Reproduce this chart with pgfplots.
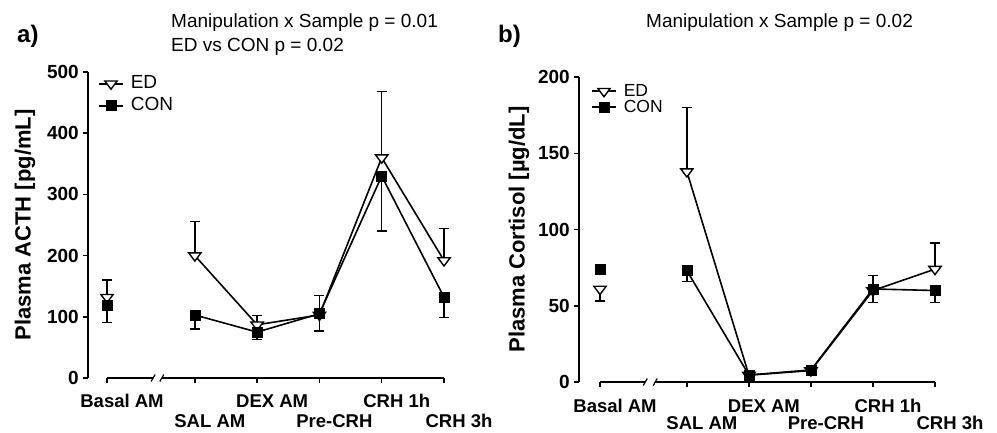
\documentclass[border=0pt]{standalone}
\usepackage{fontspec}
\setmainfont{Liberation Sans}
\usepackage{pgfplots}
\pgfplotsset{compat=1.18}

\pgfplotsset{
  prism/.style={
    scale only axis, clip=false, enlargelimits=false,
    axis x line*=bottom, axis y line*=left,
    x axis line style={draw=none},
    y axis line style={line width=1.5pt},
    tick align=outside, major tick length=5pt,
    major tick style={black, line width=1.5pt},
    /pgf/number format/assume math mode=true,
    yticklabel style={font=\bfseries\fontsize{19}{21}\selectfont, anchor=east, inner sep=0pt, xshift=-4pt},
    xticklabel style={font=\bfseries\fontsize{18.5}{20}\selectfont, anchor=base, inner sep=0pt, xshift=15pt},
    ylabel style={font=\bfseries\fontsize{22}{24}\selectfont, anchor=center},
    legend cell align=left,
    legend image code/.code={\draw[mark repeat=2, mark phase=2] plot coordinates {(0pt,0pt) (12pt,0pt) (24pt,0pt)};},
  },
  errp/.style={forget plot, draw=none, mark=none,
    error bars/.cd, y dir=plus, y explicit,
    error bar style={draw=black, solid, line width=1.5pt},
    error mark options={draw=black, solid, line width=1.5pt, mark size=5pt, rotate=90}},
  errm/.style={forget plot, draw=none, mark=none,
    error bars/.cd, y dir=minus, y explicit,
    error bar style={draw=black, solid, line width=1.5pt},
    error mark options={draw=black, solid, line width=1.5pt, mark size=5pt, rotate=90}},
  edline/.style={black, line width=1.6pt, mark=triangle*,
    mark options={solid, fill=white, draw=black, rotate=180, xscale=1.3, mark size=5.5pt, line width=1.4pt}},
  conline/.style={black, line width=1.6pt, mark=square*,
    mark options={solid, fill=black, draw=black, mark size=5pt, line width=0.6pt}},
}

\begin{document}
\begin{tikzpicture}
\path[use as bounding box] (0,0) rectangle (997pt,432pt);

% ---------------- panel a ----------------
\begin{axis}[prism,
  at={(88pt,54pt)}, anchor=south west,
  width=356pt, height=306pt,
  xmin=-0.305, xmax=5.41, ymin=0, ymax=500,
  ytick={0,100,200,300,400,500},
  xtick={0,1.41,2.41,3.41,4.41,5.41},
  xticklabel style={yshift=-24pt},
  xticklabels={Basal AM,\raisebox{-20pt}{SAL AM},DEX AM,\raisebox{-20pt}{Pre-CRH},CRH 1h,\raisebox{-20pt}{CRH 3h}},
  ylabel={Plasma ACTH [pg/mL]},
  ylabel style={at={(axis description cs:-0.177,0.5)}},
  legend style={at={(axis description cs:0,1)}, anchor=north west, xshift=10pt, yshift=-4pt,
    draw=none, fill=none, inner sep=0pt, row sep=7pt, column sep=7pt,
    font=\fontsize{19}{21}\selectfont,
    nodes={inner sep=0pt, text height=12.5pt, text depth=2.5pt}},
]
\addplot[errp] coordinates {(0,132) +- (0,28) (1.41,200) +- (0,56) (2.41,87) +- (0,15) (3.41,103) +- (0,32) (4.41,360) +- (0,108) (5.41,192) +- (0,52)};
\addplot[errm] coordinates {(0,118) +- (0,27) (1.41,103) +- (0,23) (2.41,75) +- (0,12) (3.41,105) +- (0,28) (4.41,330) +- (0,90) (5.41,132) +- (0,33)};
\addplot[edline] coordinates {(1.41,200) (2.41,87) (3.41,103) (4.41,360) (5.41,192)};
\addlegendentry{ED}
\addplot[conline] coordinates {(1.41,103) (2.41,75) (3.41,105) (4.41,330) (5.41,132)};
\addlegendentry{CON}
\addplot[edline, only marks, forget plot] coordinates {(0,132)};
\addplot[conline, only marks, forget plot] coordinates {(0,118)};
% broken x axis line
\draw[line width=1.5pt] (axis cs:0,0) -- (axis cs:0.74,0);
\draw[line width=1.5pt] (axis cs:0.88,0) -- (axis cs:5.41,0);
\draw[line width=1.2pt] (axis cs:0.74,0) ++(-2pt,-3.5pt) -- ++(4pt,7pt);
\draw[line width=1.2pt] (axis cs:0.88,0) ++(-2pt,-3.5pt) -- ++(4pt,7pt);
\end{axis}

% ---------------- panel b ----------------
\begin{axis}[prism,
  at={(579pt,50pt)}, anchor=south west,
  width=356pt, height=305pt,
  xmin=-0.339, xmax=5.40, ymin=0, ymax=200,
  ytick={0,50,100,150,200},
  xtick={0,1.40,2.40,3.40,4.40,5.40},
  xticklabel style={yshift=-25pt},
  xticklabels={Basal AM,\raisebox{-17.5pt}{SAL AM},DEX AM,\raisebox{-17.5pt}{Pre-CRH},CRH 1h,\raisebox{-17.5pt}{CRH 3h}},
  ylabel={Plasma Cortisol [µg/dL]},
  ylabel style={at={(axis description cs:-0.1685,0.5)}},
  legend style={at={(axis description cs:0,1)}, anchor=north west, xshift=12pt, yshift=-7pt,
    draw=none, fill=none, inner sep=0pt, row sep=2pt, column sep=7pt,
    font=\fontsize{17.5}{19}\selectfont,
    nodes={inner sep=0pt, text height=12pt, text depth=2pt}},
]
\addplot[errp] coordinates {(1.40,138) +- (0,42) (4.40,60) +- (0,10) (5.40,74) +- (0,17)};
\addplot[errm] coordinates {(0,61) +- (0,8)};
\addplot[errm] coordinates {(0,74) +- (0,2) (1.40,73) +- (0,7) (4.40,61) +- (0,9) (5.40,60) +- (0,8)};
\addplot[edline] coordinates {(1.40,138) (2.40,4.5) (3.40,7.5) (4.40,60) (5.40,74)};
\addlegendentry{ED}
\addplot[conline] coordinates {(1.40,73) (2.40,4.6) (3.40,7.9) (4.40,61) (5.40,60)};
\addlegendentry{CON}
\addplot[edline, only marks, forget plot] coordinates {(0,61)};
\addplot[conline, only marks, forget plot] coordinates {(0,74)};
\draw[line width=1.5pt] (axis cs:0,0) -- (axis cs:0.73,0);
\draw[line width=1.5pt] (axis cs:0.89,0) -- (axis cs:5.40,0);
\draw[line width=1.2pt] (axis cs:0.73,0) ++(-2pt,-3.5pt) -- ++(4pt,7pt);
\draw[line width=1.2pt] (axis cs:0.89,0) ++(-2pt,-3.5pt) -- ++(4pt,7pt);
\end{axis}

% ---------------- titles ----------------
\node[anchor=base west, inner sep=0pt, font=\bfseries\fontsize{24}{26}\selectfont] at (17pt,389pt) {a)};
\node[anchor=base west, inner sep=0pt, font=\bfseries\fontsize{24}{26}\selectfont] at (498pt,389pt) {b)};
\node[anchor=base west, inner sep=0pt, font=\fontsize{19}{21}\selectfont] at (171pt,404pt) {Manipulation x Sample p = 0.01};
\node[anchor=base west, inner sep=0pt, font=\fontsize{19}{21}\selectfont] at (171pt,380.5pt) {ED vs CON p = 0.02};
\node[anchor=base west, inner sep=0pt, font=\fontsize{19}{21}\selectfont] at (646pt,404pt) {Manipulation x Sample p = 0.02};
\end{tikzpicture}
\end{document}
